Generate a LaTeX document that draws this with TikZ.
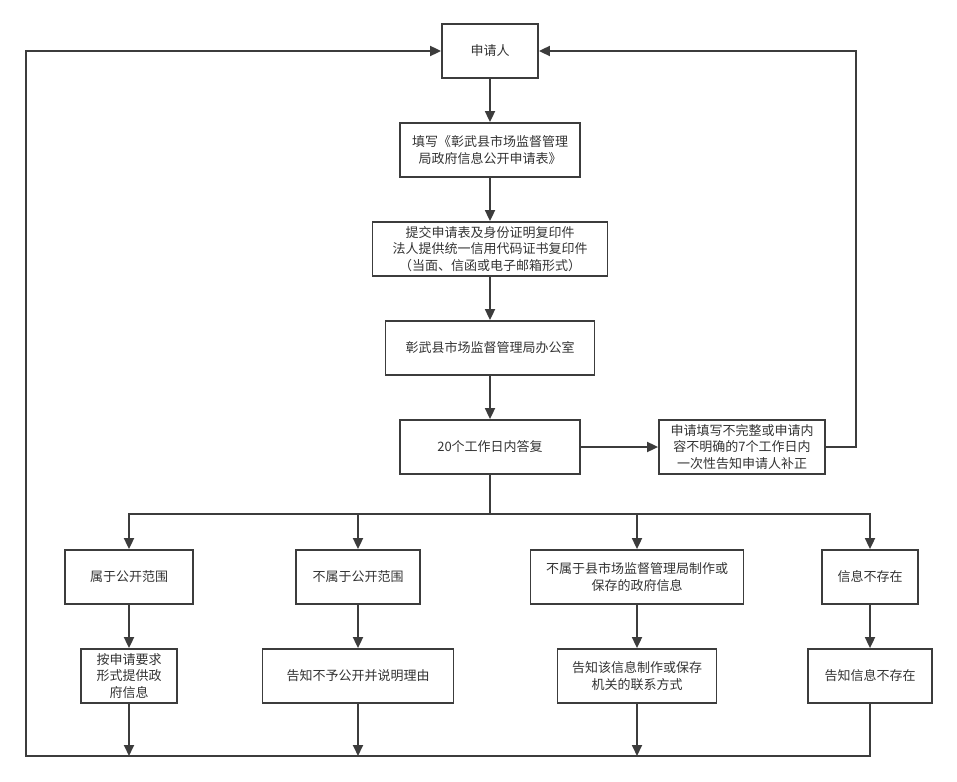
\documentclass[tikz,border=0pt]{standalone}
\usepackage{fontspec}
\newfontfamily\cjkfont{Noto Sans CJK SC}
\usepackage{xcolor}
\usepackage{tikz}
\usetikzlibrary{arrows.meta, positioning}
\definecolor{linegray}{HTML}{3C3C3C}
\definecolor{textgray}{HTML}{333333}

\begin{document}
\begin{tikzpicture}[
node distance=99pt,
box/.style={
    draw=linegray, line width=1.8pt, align=center,
    minimum height=54pt, inner sep=2pt, text=textgray,
    font=\cjkfont\fontsize{13pt}{16.7pt}\selectfont
},
arrow/.style={-{Triangle[length=11pt,width=10pt]}, draw=linegray, line width=1.8pt},
line/.style={draw=linegray, line width=1.8pt}
]

\useasboundingbox (0pt,0pt) rectangle (957pt,-781pt);

\node (apply) [box, minimum width=96pt] at (490pt,-51pt) {申请人};
\node (fill) [below of=apply, box, minimum width=180pt] {填写《彰武县市场监督管理\\局政府信息公开申请表》};
\node (submit) [below of=fill, box, minimum width=235pt] {提交申请表及身份证明复印件\\法人提供统一信用代码证书复印件\\（当面、信函或电子邮箱形式）};
\node (office) [below of=submit, box, minimum width=209pt] {彰武县市场监督管理局办公室};
\node (reply) [below of=office, box, minimum width=180pt] {20个工作日内答复};
\node (notice) [right of=reply, xshift=153pt, box, minimum width=166pt] {申请填写不完整或申请内\\容不明确的7个工作日内\\一次性告知申请人补正};

\node (pub) [below of=reply, xshift=-361pt, yshift=-31pt, box, minimum width=128pt] {属于公开范围};
\node (nopub) [below of=reply, xshift=-132pt, yshift=-31pt, box, minimum width=124pt] {不属于公开范围};
\node (other) [below of=reply, xshift=147pt, yshift=-31pt, box, minimum width=213pt] {不属于县市场监督管理局制作或\\保存的政府信息};
\node (absent) [below of=reply, xshift=380pt, yshift=-31pt, box, minimum width=96pt] {信息不存在};

\node (give) [below of=pub, box, minimum width=96pt] {按申请要求\\形式提供政\\府信息};
\node (refuse) [below of=nopub, box, minimum width=191pt] {告知不予公开并说明理由};
\node (refer) [below of=other, box, minimum width=159pt] {告知该信息制作或保存\\机关的联系方式};
\node (noinfo) [below of=absent, box, minimum width=124pt] {告知信息不存在};

\coordinate (fork) at ([yshift=-39pt]reply.south);
\coordinate (base) at (26pt,-756pt);

\draw[arrow] (apply) -- (fill);
\draw[arrow] (fill) -- (submit);
\draw[arrow] (submit) -- (office);
\draw[arrow] (office) -- (reply);
\draw[arrow] (reply) -- (notice);
\draw[arrow] (notice.east) -- ++(30pt,0) |- (apply);

\draw[line] (reply) -- (fork);
\draw[arrow] (fork) -| (pub);
\draw[arrow] (fork) -| (nopub);
\draw[arrow] (fork) -| (other);
\draw[arrow] (fork) -| (absent);

\draw[arrow] (pub) -- (give);
\draw[arrow] (nopub) -- (refuse);
\draw[arrow] (other) -- (refer);
\draw[arrow] (absent) -- (noinfo);

\draw[arrow] (give) -- (give |- base);
\draw[arrow] (refuse) -- (refuse |- base);
\draw[arrow] (refer) -- (refer |- base);
\draw[arrow] (noinfo) |- (base) |- (apply);

\end{tikzpicture}
\end{document}
